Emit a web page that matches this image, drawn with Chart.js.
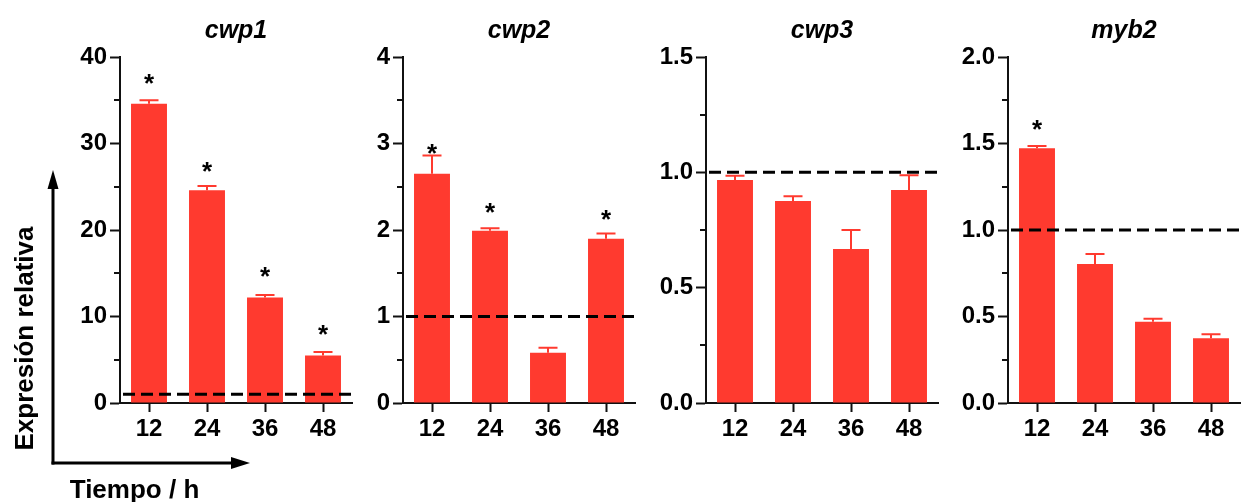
<!DOCTYPE html>
<html><head><meta charset="utf-8">
<script src="https://cdn.jsdelivr.net/npm/chart.js@4"></script>
<style>
html,body{margin:0;padding:0;background:#fff;overflow:hidden;width:1241px;height:502px;position:relative}
canvas{position:absolute;top:0}
</style></head>
<body>
<canvas id="c1"></canvas><canvas id="c2"></canvas><canvas id="c3"></canvas><canvas id="c4"></canvas>
<script>
// ---- data ----
const categories = ['12', '24', '36', '48'];
const cwp1Mean = [34.6, 24.6, 12.2, 5.5];
const cwp1Err  = [0.4, 0.5, 0.3, 0.4];
const cwp1Star = [37.7, 27.5, 15.4, 8.7];
const cwp2Mean = [2.65, 1.99, 0.58, 1.90];
const cwp2Err  = [0.21, 0.03, 0.06, 0.06];
const cwp2Star = [2.96, 2.28, null, 2.20];
const cwp3Mean = [0.967, 0.876, 0.668, 0.923];
const cwp3Err  = [0.018, 0.02, 0.082, 0.064];
const cwp3Star = [null, null, null, null];
const myb2Mean = [1.472, 0.803, 0.47, 0.374];
const myb2Err  = [0.014, 0.058, 0.017, 0.023];
const myb2Star = [1.62, null, null, null];
const panelTitles = ['cwp1', 'cwp2', 'cwp3', 'myb2'];
const yMaxes = [40, 4, 1.5, 2];
const yMajorSteps = [10, 1, 0.5, 0.5];
const yMinorSteps = [5, 0.5, 0.25, 0.25];
const yDecimals = [0, 0, 1, 1];
const referenceLevel = 1;
const yAxisTitle = 'Expresión relativa';
const xAxisTitle = 'Tiempo / h';

// ---- styles ----
const FONT = '"Liberation Sans", Arial, Helvetica, sans-serif';
const BAR = '#FF3A2F';
const INK = '#111111';

const extrasPlugin = {
  id: 'extras',
  afterDatasetsDraw(chart, args, o) {
    const ctx = chart.ctx, a = chart.chartArea, y = chart.scales.y;
    const meta = chart.getDatasetMeta(0);
    ctx.save();
    // error bars (upper only)
    ctx.strokeStyle = BAR; ctx.lineWidth = 2;
    meta.data.forEach((bar, i) => {
      const top = y.getPixelForValue(o.means[i]);
      const et = y.getPixelForValue(o.means[i] + o.errs[i]);
      ctx.beginPath();
      ctx.moveTo(bar.x, top); ctx.lineTo(bar.x, et);
      ctx.moveTo(bar.x - 9.5, et); ctx.lineTo(bar.x + 9.5, et);
      ctx.stroke();
    });
    // reference dashed line
    const yy = y.getPixelForValue(o.ref);
    ctx.strokeStyle = '#000'; ctx.lineWidth = 3; ctx.setLineDash([12, 6]);
    ctx.beginPath(); ctx.moveTo(a.left + 3, yy); ctx.lineTo(a.right + 2, yy); ctx.stroke();
    ctx.setLineDash([]);
    // minor ticks
    ctx.strokeStyle = INK; ctx.lineWidth = 2;
    for (let v = o.minor; v < o.max + 1e-9; v += o.minor) {
      const r = v / o.major;
      if (Math.abs(r - Math.round(r)) < 1e-6) continue;
      const p = Math.round(y.getPixelForValue(v));
      ctx.beginPath(); ctx.moveTo(a.left - 6, p); ctx.lineTo(a.left, p); ctx.stroke();
    }
    // stars
    ctx.fillStyle = '#000'; ctx.font = 'bold 26px ' + FONT;
    ctx.textAlign = 'center'; ctx.textBaseline = 'alphabetic';
    o.stars.forEach((s, i) => {
      if (s == null) return;
      ctx.fillText('*', meta.data[i].x, y.getPixelForValue(s) + 15);
    });
    // panel title
    ctx.font = 'italic bold 25px ' + FONT;
    ctx.fillText(o.title, (a.left + a.right) / 2, 38);
    ctx.restore();
  }
};

const arrowsPlugin = {
  id: 'arrows',
  afterDraw(chart, args, o) {
    if (!o.enabled) return;
    const ctx = chart.ctx;
    ctx.save();
    ctx.strokeStyle = '#000'; ctx.fillStyle = '#000'; ctx.lineWidth = 3;
    const ox = 53, oy = 463;
    ctx.beginPath(); ctx.moveTo(ox, oy + 1.5); ctx.lineTo(ox, 186); ctx.stroke();
    ctx.beginPath(); ctx.moveTo(ox, 170); ctx.lineTo(ox - 5.5, 189); ctx.lineTo(ox + 5.5, 189); ctx.closePath(); ctx.fill();
    ctx.beginPath(); ctx.moveTo(ox - 1.5, oy); ctx.lineTo(233, oy); ctx.stroke();
    ctx.beginPath(); ctx.moveTo(250, oy); ctx.lineTo(231, oy - 6); ctx.lineTo(231, oy + 6); ctx.closePath(); ctx.fill();
    ctx.font = 'bold 26px ' + FONT;
    ctx.textAlign = 'center'; ctx.textBaseline = 'alphabetic';
    ctx.fillText(o.xTitle, 134.5, 498);
    ctx.translate(33, 338.5); ctx.rotate(-Math.PI / 2);
    ctx.fillText(o.yTitle, 0, 0);
    ctx.restore();
  }
};

function makePanel(id, left, padLeft, padRight, idx, means, errs, stars, withArrows) {
  const cv = document.getElementById(id);
  const W = padLeft + 80 + 232 + padRight;
  cv.width = W; cv.height = 502;
  cv.style.left = left + 'px'; cv.style.width = W + 'px'; cv.style.height = '502px';
  new Chart(cv, {
    type: 'bar',
    data: { labels: categories, datasets: [{ data: means, backgroundColor: BAR, borderWidth: 0,
      barPercentage: 0.62, categoryPercentage: 1 }] },
    options: {
      responsive: false, animation: false, devicePixelRatio: 1,
      layout: { padding: { top: 57, bottom: 49, left: padLeft, right: padRight } },
      plugins: {
        legend: { display: false }, tooltip: { enabled: false }, title: { display: false },
        extras: { means, errs, stars, ref: referenceLevel, title: panelTitles[idx],
          max: yMaxes[idx], major: yMajorSteps[idx], minor: yMinorSteps[idx] },
        arrows: { enabled: withArrows, xTitle: xAxisTitle, yTitle: yAxisTitle }
      },
      scales: {
        x: {
          z: 1,
          grid: { offset: false, drawOnChartArea: false, drawTicks: true, tickLength: 9, tickWidth: 2, tickColor: INK },
          border: { display: true, width: 2, color: INK },
          ticks: { color: '#000', font: { family: FONT, size: 24, weight: 'bold' }, padding: 3, maxRotation: 0 },
          afterFit: s => { s.height = 50; }
        },
        y: {
          z: 1,
          min: 0, max: yMaxes[idx],
          grid: { drawOnChartArea: false, drawTicks: true, tickLength: 10, tickWidth: 2, tickColor: INK },
          border: { display: true, width: 2, color: INK },
          ticks: { stepSize: yMajorSteps[idx], color: '#000', padding: 3,
            font: { family: FONT, size: 24, weight: 'bold' },
            callback: v => v.toFixed(yDecimals[idx]) },
          afterFit: s => { s.width = 80; }
        }
      }
    },
    plugins: [extrasPlugin, arrowsPlugin]
  });
}

makePanel('c1', 0, 40, 4, 0, cwp1Mean, cwp1Err, cwp1Star, true);
makePanel('c2', 323, 0, 4, 1, cwp2Mean, cwp2Err, cwp2Star, false);
makePanel('c3', 626, 0, 5, 2, cwp3Mean, cwp3Err, cwp3Star, false);
makePanel('c4', 928, 0, 1, 3, myb2Mean, myb2Err, myb2Star, false);
</script>
</body></html>
